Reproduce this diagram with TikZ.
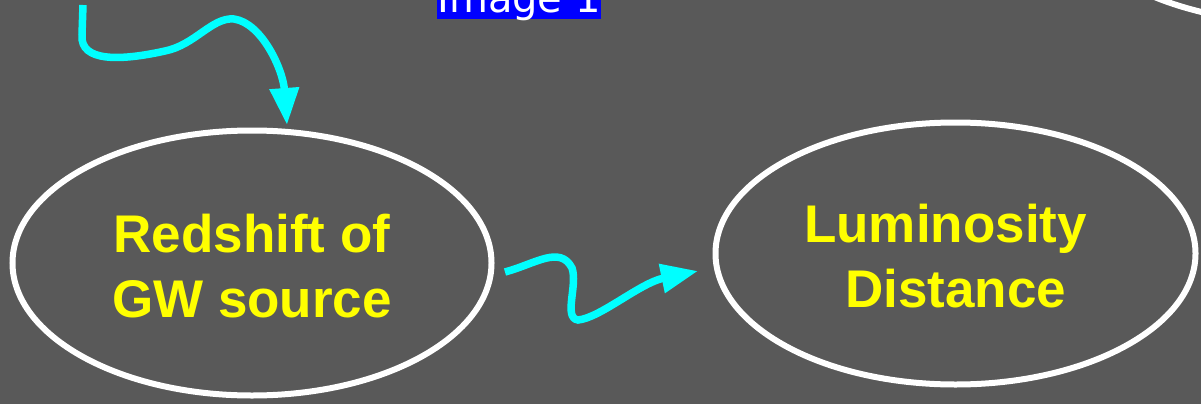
\documentclass[tikz,border=0pt]{standalone}
\usepackage{fontspec}
\setmainfont{Liberation Sans}
\newfontfamily\labelfont{DejaVu Sans}
\usetikzlibrary{shapes.geometric,arrows.meta}
\definecolor{bg}{HTML}{595959}
\definecolor{gwcyan}{HTML}{00FFFF}
\definecolor{gwyellow}{HTML}{FFFF00}
\definecolor{gwblue}{HTML}{0000FF}
\tikzset{
  oval/.style={ellipse, draw=white, line width=6pt, inner sep=0pt, align=center,
    text=gwyellow, font=\bfseries\fontsize{53}{65}\selectfont},
  wavy/.style={draw=gwcyan, line width=7.5pt, -{Triangle[length=37pt,width=28pt]}},
  tag/.style={fill=gwblue, text=white, inner xsep=0pt, inner ysep=0pt,
    minimum width=164pt, text height=27pt, text depth=6pt,
    font=\labelfont\fontsize{40}{42}\selectfont}
}
\begin{document}
\begin{tikzpicture}[x=1pt,y=-1pt]
\useasboundingbox (0,0) rectangle (1201,404);
\clip (0,0) rectangle (1201,404);
\fill[bg] (0,0) rectangle (1201,404);

\node[tag, anchor=base] (img) at (519,13) {Image 1};

\node[oval, minimum width=480pt, minimum height=262pt] (top) at (1298,-108) {};
\node[oval, minimum width=479pt, minimum height=265pt] (red) at (252,263) {};
\node[oval, minimum width=480pt, minimum height=262pt] (lum) at (955.5,253.5) {};
\node[oval, draw=none, fill=none] (redtext) at (252,266.5) {Redshift of\\GW source};
\node[oval, draw=none, fill=none] (lumtext) at (955.5,256) {Luminosity\kern20pt\\Distance};

\coordinate (s1) at (83,5);
\coordinate (t1) at (287,125);
\draw[wavy] (s1) -- (82,35) .. controls (80,62) and (120,61) .. (165,51)
  .. controls (195,45) and (212,17) .. (234,19)
  .. controls (262,23) and (283,70) .. (t1);

\coordinate (s2) at (505,272);
\coordinate (t2) at (698,271);
\draw[wavy] (s2) .. controls (535,264) and (560,245) .. (572,268)
  .. controls (578,285) and (563,318) .. (578,320)
  .. controls (600,318) and (640,283) .. (t2);
\end{tikzpicture}
\end{document}
